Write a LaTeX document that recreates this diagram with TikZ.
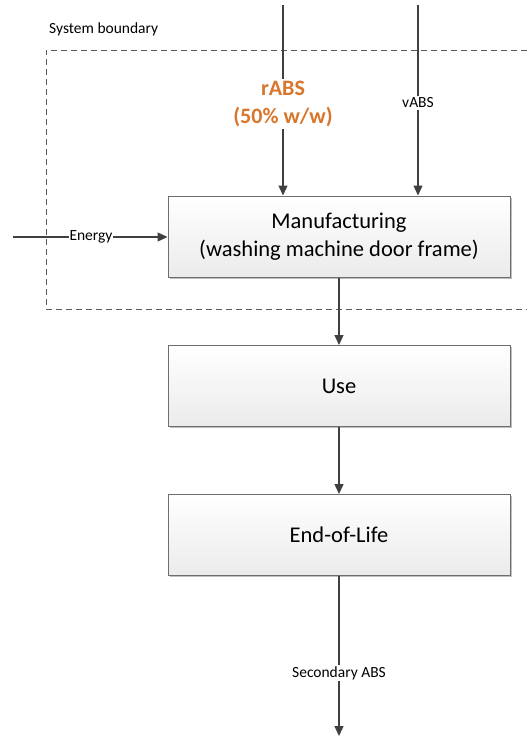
\documentclass[tikz,border=0pt]{standalone}
\usepackage{fontspec}
\setmainfont{Carlito}
\usetikzlibrary{arrows.meta,shadows}
\definecolor{linec}{HTML}{404040}
\definecolor{boxline}{HTML}{6E6E6E}
\definecolor{boxbot}{HTML}{EBEBEB}
\definecolor{orangec}{HTML}{D9762B}
\definecolor{dashc}{HTML}{5A5A5A}
\begin{document}
\begin{tikzpicture}[x=1bp,y=-1bp,
  procbox/.style={draw=boxline, line width=1bp, rectangle, minimum width=342bp, minimum height=81bp,
    top color=white, bottom color=boxbot, align=center, inner sep=0pt,
    font=\fontsize{22.5bp}{28bp}\selectfont,
    drop shadow={shadow xshift=1.5bp, shadow yshift=-1.5bp, opacity=0.25, fill=black}},
  flow/.style={draw=linec, line width=1.3bp},
  flowarr/.style={flow, -{Triangle[length=10bp,width=9bp]}},
  smalllab/.style={fill=white, inner sep=1.5bp, font=\fontsize{15.5bp}{18bp}\selectfont, text=black},
  boundary/.style={draw=dashc, line width=0.9bp, dash pattern=on 6bp off 4bp}
]
\useasboundingbox (0,0) rectangle (527,739);
% system boundary
\coordinate (b1) at (527,50);
\coordinate (b2) at (46,50);
\coordinate (b3) at (46,309);
\coordinate (b4) at (527,309);
\draw[boundary] (b1) -- (b2) -- (b3) -- (b4);
\node[anchor=west, inner sep=0pt, font=\fontsize{15.5bp}{18bp}\selectfont] (sb) at (49,29) {System boundary};
% boxes
\node[procbox] (mfg) at (339,236.5) {Manufacturing\\(washing machine door frame)};
\node[procbox] (use) at (339,386) {Use};
\node[procbox] (eol) at (339,535) {End-of-Life};
% rABS
\coordinate (rtop) at (283,5);
\node[fill=white, inner sep=2bp, align=center, text=orangec, font=\bfseries\fontsize{22bp}{28bp}\selectfont] (rlab) at (283,104) {rABS\\(50\% w/w)};
\draw[flow] (rtop) -- (rlab.north);
\draw[flowarr] (rlab.south) -- (rlab.south |- mfg.north);
% vABS
\coordinate (vtop) at (418,5);
\node[smalllab] (vlab) at (418,103) {vABS};
\draw[flow] (vtop) -- (vlab.north);
\draw[flowarr] (vlab.south) -- (vlab.south |- mfg.north);
% energy
\coordinate (eleft) at (13,237);
\node[smalllab, inner sep=0.5bp] (elab) at (91,237) {Energy};
\draw[flow] (eleft) -- (elab.west);
\draw[flowarr] (elab.east) -- (mfg.west |- elab.east);
% chain
\draw[flowarr] (mfg.south) -- (use.north);
\draw[flowarr] (use.south) -- (eol.north);
% secondary ABS
\coordinate (send) at (339,736);
\node[smalllab] (slab) at (339,673) {Secondary ABS};
\draw[flow] (eol.south) -- (slab.north);
\draw[flowarr] (slab.south) -- (send);
\end{tikzpicture}
\end{document}
